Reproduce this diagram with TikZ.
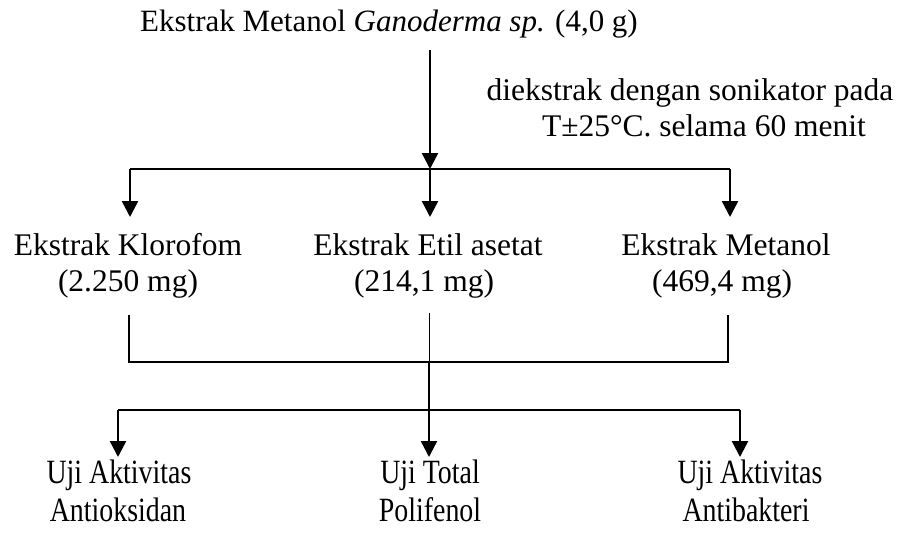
\documentclass[tikz,border=0pt]{standalone}
\usepackage{fontspec}
\setmainfont{Liberation Serif}
\newfontfamily\narrowserif[FakeStretch=0.82]{Liberation Serif}
\usetikzlibrary{arrows.meta}
\begin{document}
\begin{tikzpicture}[x=1pt,y=-1pt,
  txt/.style={inner sep=0pt, anchor=base, font=\fontsize{31.5}{38}\selectfont},
  ntxt/.style={inner sep=0pt, anchor=base, font=\narrowserif\fontsize{34}{40}\selectfont},
  arr/.style={line width=2.4pt, -{Triangle[length=16pt,width=16pt]}},
  hline/.style={line width=1.3pt},
  thin/.style={line width=0.9pt}]
\useasboundingbox (0,0) rectangle (901,535);
% title
\node[txt, font=\fontsize{31}{38}\selectfont] (title) at (389,32) {Ekstrak Metanol \textit{Ganoderma sp.} (4,0 g)};
\node[txt] (lab1) at (690,100) {diekstrak dengan sonikator pada};
\node[txt] (lab2) at (704,136) {T±25°C. selama 60 menit};
% row 2
\node[txt] (k1) at (128,255) {Ekstrak Klorofom};
\node[txt] (k2) at (128,291) {(2.250 mg)};
\node[txt] (e1) at (428,255) {Ekstrak Etil asetat};
\node[txt] (e2) at (424,291) {(214,1 mg)};
\node[txt] (m1) at (726,255) {Ekstrak Metanol};
\node[txt] (m2) at (722,291) {(469,4 mg)};
% row 3
\node[ntxt] (a1) at (119,483) {Uji Aktivitas};
\node[ntxt] (a2) at (118,521) {Antioksidan};
\node[ntxt] (p1) at (430,483) {Uji Total};
\node[ntxt] (p2) at (430,521) {Polifenol};
\node[ntxt] (b1) at (750,483) {Uji Aktivitas};
\node[ntxt] (b2) at (746,521) {Antibakteri};
% coordinates
\coordinate (s0) at (430,50);
\coordinate (sm) at (430,169);
\coordinate (sl) at (130,169);
\coordinate (sr) at (730,169);
\coordinate (tl) at (130,217);
\coordinate (tm) at (430,217);
\coordinate (tr) at (730,217);
\coordinate (bl0) at (129,315);
\coordinate (bl1) at (129,362);
\coordinate (br0) at (728,315);
\coordinate (br1) at (728,362);
\coordinate (bm0) at (429,313);
\coordinate (bm1) at (429,362);
\coordinate (bm2) at (429,457);
\coordinate (hl) at (118,410);
\coordinate (hr) at (740,410);
\coordinate (dl) at (118,457);
\coordinate (dr) at (740,457);
% connectors
\draw[arr] (s0) -- (sm);
\draw[hline] (sl) -- (sr);
\draw[arr] (sl) -- (tl);
\draw[arr] (sm) -- (tm);
\draw[arr] (sr) -- (tr);
\draw[hline] (bl0) -- (bl1) -- (br1) -- (br0);
\draw[thin] (bm0) -- (bm1);
\draw[arr] (bm1) -- (bm2);
\draw[hline] (hl) -- (hr);
\draw[arr] (hl) -- (dl);
\draw[arr] (hr) -- (dr);
\end{tikzpicture}
\end{document}
